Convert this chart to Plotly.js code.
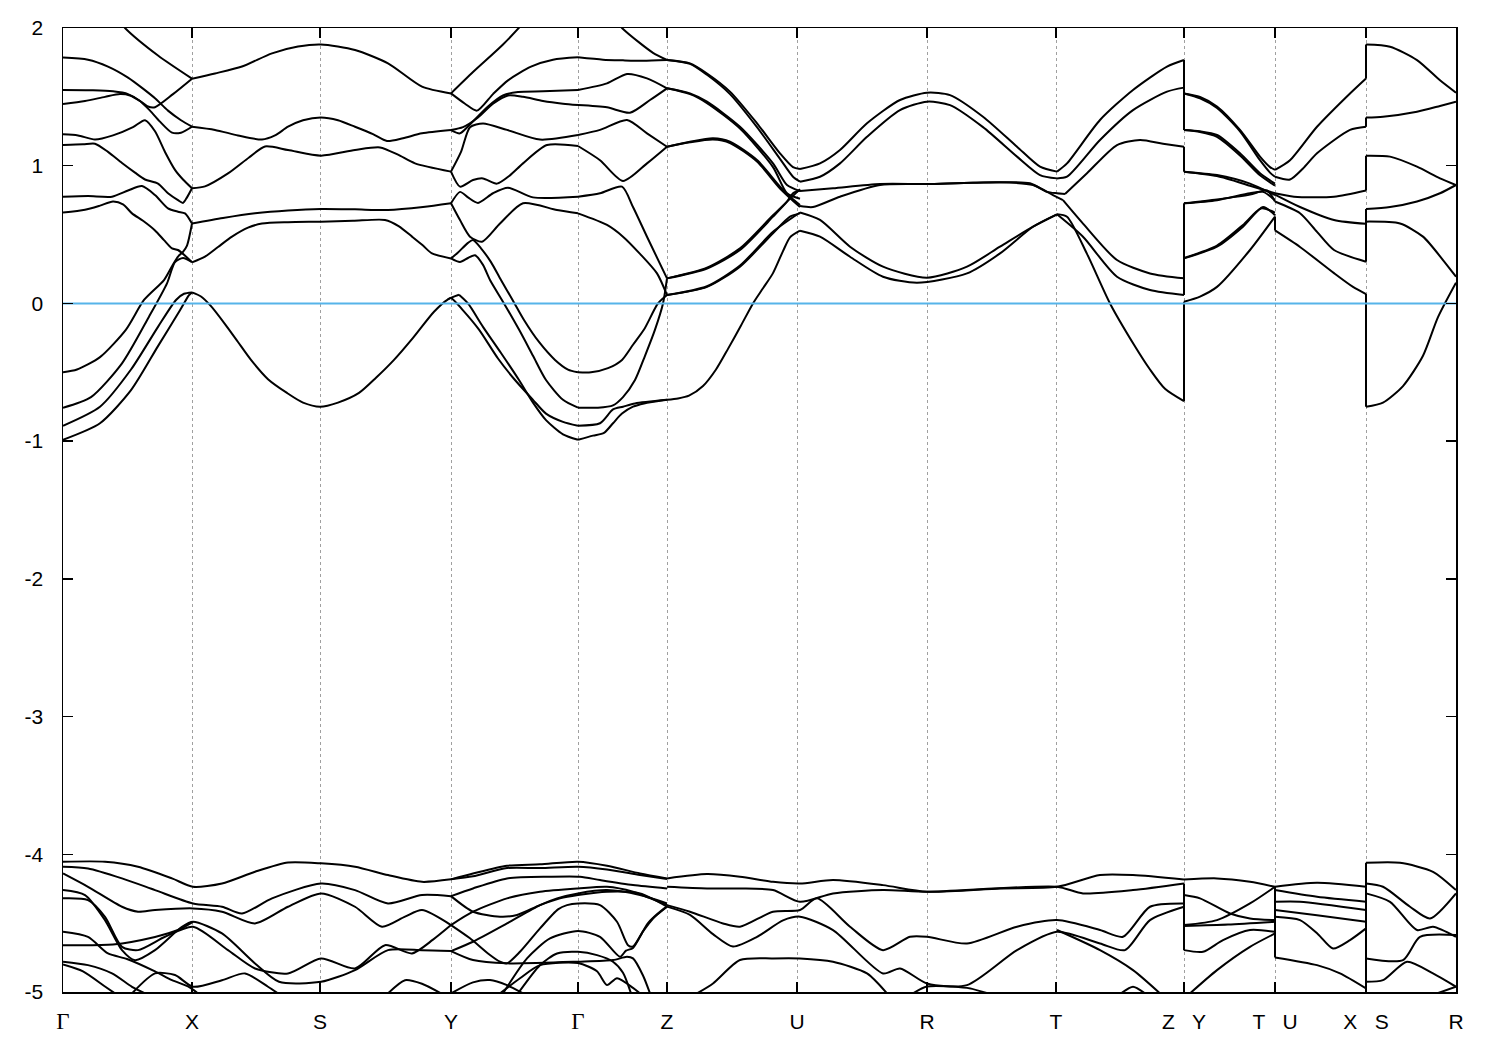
<!DOCTYPE html>
<html><head><meta charset="utf-8">
<script src="https://cdn.plot.ly/plotly-3.0.1.min.js"></script>
<style>html,body{margin:0;padding:0;background:#fff}#chart{width:1500px;height:1050px}</style>
</head><body><div id="chart"></div>
<script>
// k-path node positions (path length units) and labels
const kNodes = [0,129,257,388,515,604,734,864,993,1121,1212,1303,1393];
const G = '<span style="font-family:\'Liberation Serif\',serif;font-size:23px">Γ</span>';
const kLabels = [G,'X','S','Y',G,'Z','U','R','T','Z   Y','T   U','X   S','R'];
const fermiLevel = 0;
const eTicks = [-5,-4,-3,-2,-1,0,1,2];

// ---- bands near the Fermi level, by path segment: each curve = [[k, E], ...]
const upGX = [
 [[40,2.2],[62,2.0],[95,1.8],[129,1.632]],
 [[0,1.785],[25,1.77],[45,1.72],[65,1.64],[80,1.56],[92,1.49],[105,1.40],[118,1.33],[129,1.283]],
 [[0,1.55],[30,1.548],[50,1.54],[65,1.52],[77,1.47],[87,1.40],[97,1.32],[109,1.24],[118,1.24],[129,1.283]],
 [[0,1.448],[22,1.47],[42,1.50],[57,1.52],[67,1.51],[77,1.47],[85,1.43],[92,1.425],[110,1.52],[129,1.632]],
 [[0,1.228],[15,1.22],[32,1.19],[50,1.22],[70,1.28],[82,1.33],[92,1.25],[102,1.10],[112,0.97],[120,0.90],[129,0.836]],
 [[0,1.15],[20,1.155],[32,1.16],[45,1.10],[59,1.02],[72,0.95],[82,0.90],[95,0.87],[105,0.80],[115,0.75],[120,0.73],[124,0.77],[129,0.836]],
 [[0,0.775],[25,0.78],[49,0.775],[65,0.82],[79,0.852],[92,0.787],[105,0.69],[115,0.666],[122,0.654],[129,0.58]],
 [[0,0.66],[22,0.68],[37,0.71],[50,0.74],[60,0.72],[69,0.654],[80,0.60],[92,0.53],[101,0.46],[109,0.40],[115,0.388],[129,0.30]],
 [[0,-0.50],[14,-0.48],[37,-0.39],[63,-0.19],[81,0.025],[101,0.17],[109,0.27],[115,0.34],[120,0.375],[124,0.42],[129,0.58]],
 [[0,-0.757],[28,-0.68],[59,-0.435],[86,-0.096],[104,0.146],[112,0.30],[120,0.33],[129,0.30]],
 [[0,-0.888],[37,-0.75],[68,-0.48],[95,-0.17],[113,0.025],[121,0.07],[129,0.08]],
 [[0,-0.99],[37,-0.87],[68,-0.63],[95,-0.31],[117,-0.05],[126,0.06],[129,0.08]]
];
const upXSY = [
 [[129,1.632],[152,1.67],[179,1.72],[209,1.816],[235,1.865],[258,1.88],[292,1.84],[325,1.743],[359,1.574],[388,1.525]],
 [[129,1.283],[152,1.26],[175,1.22],[199,1.19],[212,1.22],[225,1.283],[240,1.33],[258,1.35],[275,1.33],[292,1.283],[310,1.23],[324,1.18],[340,1.20],[359,1.235],[388,1.259]],
 [[129,0.836],[142,0.85],[165,0.944],[186,1.06],[202,1.14],[225,1.114],[258,1.073],[292,1.114],[317,1.133],[335,1.08],[352,1.017],[388,0.957]],
 [[129,0.58],[160,0.62],[192,0.654],[225,0.675],[258,0.686],[292,0.683],[325,0.678],[360,0.70],[388,0.727]],
 [[129,0.298],[142,0.34],[155,0.41],[169,0.485],[185,0.55],[199,0.58],[225,0.59],[258,0.594],[290,0.60],[322,0.606],[336,0.56],[349,0.485],[360,0.42],[369,0.363],[388,0.327]],
 [[129,0.08],[138,0.05],[148,-0.02],[162,-0.15],[175,-0.28],[188,-0.41],[205,-0.55],[224,-0.65],[240,-0.72],[257,-0.75],[275,-0.72],[296,-0.65],[313,-0.54],[331,-0.41],[350,-0.25],[371,-0.06],[385,0.03],[396,0.063]]
];
const upYG = [
 [[388,1.525],[410,1.68],[440,1.88],[462,2.05],[480,2.2]],
 [[388,1.525],[402,1.45],[414,1.40],[430,1.52],[445,1.62],[468,1.72],[490,1.77],[515,1.787]],
 [[388,1.259],[397,1.235],[407,1.30],[425,1.43],[440,1.51],[455,1.535],[480,1.54],[515,1.55]],
 [[388,1.259],[400,1.28],[415,1.35],[430,1.45],[445,1.51],[460,1.50],[480,1.47],[500,1.45],[515,1.44]],
 [[388,0.957],[398,1.10],[407,1.28],[420,1.307],[444,1.26],[477,1.19],[515,1.223]],
 [[388,0.957],[397,0.848],[410,0.896],[420,0.908],[434,0.87],[447,0.93],[460,1.017],[484,1.15],[515,1.143]],
 [[388,0.727],[397,0.81],[405,0.77],[415,0.73],[430,0.80],[445,0.84],[470,0.77],[515,0.775]],
 [[388,0.727],[397,0.605],[407,0.485],[419,0.448],[437,0.58],[460,0.727],[494,0.678],[515,0.654]],
 [[388,0.327],[397,0.30],[405,0.33],[412,0.35],[420,0.28],[427,0.17],[441,0.0],[456,-0.19],[470,-0.38],[483,-0.556],[500,-0.70],[515,-0.757]],
 [[388,0.327],[395,0.37],[405,0.44],[410,0.46],[418,0.40],[428,0.30],[438,0.17],[450,0.02],[461,-0.12],[476,-0.28],[492,-0.41],[505,-0.48],[515,-0.50]],
 [[396,0.063],[405,0.0],[420,-0.17],[438,-0.36],[456,-0.556],[470,-0.72],[483,-0.847],[500,-0.95],[515,-0.99]],
 [[385,0.03],[388,0.04],[400,-0.05],[416,-0.19],[435,-0.40],[452,-0.556],[470,-0.70],[483,-0.80],[500,-0.86],[515,-0.888]]
];
const upGZ = [
 [[515,1.787],[540,1.77],[560,1.765],[580,1.762],[604,1.768]],
 [[530,2.3],[545,2.12],[559,2.0],[577,1.89],[590,1.82],[604,1.768]],
 [[515,1.55],[544,1.598],[564,1.666],[584,1.634],[604,1.562]],
 [[515,1.44],[544,1.424],[567,1.385],[587,1.477],[604,1.562]],
 [[515,1.223],[537,1.26],[564,1.332],[584,1.235],[604,1.138]],
 [[515,1.143],[537,1.04],[560,0.889],[584,1.017],[604,1.138]],
 [[515,0.775],[537,0.80],[559,0.848],[570,0.70],[584,0.484],[604,0.182]],
 [[515,0.654],[544,0.57],[560,0.485],[577,0.36],[594,0.218],[604,0.061]],
 [[515,-0.99],[530,-0.96],[541,-0.94],[550,-0.87],[559,-0.80],[570,-0.75],[581,-0.726],[604,-0.70]],
 [[515,-0.888],[537,-0.87],[550,-0.77],[560,-0.75],[572,-0.726],[604,-0.70]],
 [[515,-0.757],[535,-0.757],[550,-0.74],[560,-0.68],[572,-0.556],[582,-0.38],[592,-0.19],[600,0.0],[604,0.182]],
 [[515,-0.50],[528,-0.50],[545,-0.47],[559,-0.41],[570,-0.30],[581,-0.19],[595,0.0],[604,0.061]]
];
const upZU = [
 [[604,1.768],[627,1.743],[644,1.67],[667,1.538],[694,1.308],[717,1.09],[730,0.99],[737,0.976]],
 [[604,1.768],[627,1.74],[644,1.66],[667,1.52],[694,1.28],[717,1.05],[730,0.92],[737,0.884]],
 [[604,1.562],[627,1.525],[644,1.465],[677,1.283],[710,1.017],[724,0.86],[737,0.816]],
 [[604,1.562],[627,1.52],[644,1.455],[677,1.27],[710,0.99],[724,0.80],[737,0.76]],
 [[604,1.138],[627,1.174],[650,1.199],[667,1.174],[694,1.041],[717,0.848],[727,0.775],[737,0.715]],
 [[604,1.138],[627,1.17],[650,1.19],[667,1.165],[694,1.03],[717,0.835],[737,0.70]],
 [[604,0.182],[644,0.254],[677,0.388],[710,0.63],[724,0.739],[730,0.80],[737,0.82]],
 [[604,0.182],[644,0.26],[677,0.40],[710,0.64],[737,0.83]],
 [[604,0.061],[644,0.12],[677,0.267],[710,0.51],[727,0.63],[737,0.654]],
 [[604,0.061],[644,0.125],[677,0.275],[710,0.52],[737,0.66]],
 [[604,-0.70],[615,-0.69],[626,-0.67],[640,-0.60],[653,-0.48],[665,-0.33],[678,-0.16],[690,0.0],[700,0.11],[710,0.22],[720,0.38],[727,0.48],[737,0.528]]
];
const upURT = [
 [[737,0.976],[757,1.017],[777,1.114],[804,1.308],[837,1.477],[864,1.53],[887,1.513],[920,1.356],[954,1.138],[977,0.993],[994,0.957]],
 [[737,0.884],[757,0.92],[777,1.017],[804,1.21],[837,1.404],[864,1.465],[887,1.44],[920,1.28],[954,1.066],[977,0.932],[994,0.908]],
 [[737,0.816],[770,0.836],[817,0.867],[864,0.867],[910,0.877],[967,0.872],[984,0.81],[994,0.80],[1002,0.795]],
 [[737,0.707],[750,0.70],[777,0.775],[817,0.86],[864,0.867],[937,0.88],[970,0.86],[990,0.787],[1000,0.75]],
 [[737,0.66],[757,0.606],[787,0.412],[820,0.267],[864,0.187],[904,0.267],[937,0.412],[970,0.557],[994,0.647]],
 [[737,0.528],[757,0.485],[787,0.339],[820,0.194],[854,0.15],[904,0.218],[937,0.363],[970,0.557],[994,0.647]]
];
const upTZ = [
 [[994,0.957],[1004,1.017],[1037,1.332],[1070,1.55],[1104,1.72],[1121,1.768]],
 [[994,0.908],[1004,0.92],[1037,1.187],[1070,1.404],[1104,1.538],[1121,1.567]],
 [[1002,0.795],[1024,0.945],[1054,1.15],[1077,1.187],[1100,1.16],[1121,1.138]],
 [[1000,0.75],[1020,0.58],[1054,0.315],[1087,0.218],[1121,0.182]],
 [[994,0.647],[1020,0.484],[1054,0.194],[1087,0.097],[1121,0.061]],
 [[994,0.647],[1004,0.63],[1024,0.36],[1047,0.0],[1071,-0.30],[1087,-0.48],[1102,-0.62],[1121,-0.71]]
];
const upYT = [
 [[1121,1.768],[1121,1.525],[1137,1.50],[1154,1.43],[1177,1.26],[1197,1.066],[1207,0.99],[1212,0.97]],
 [[1121,1.525],[1137,1.49],[1154,1.42],[1177,1.25],[1197,1.04],[1207,0.95],[1212,0.92]],
 [[1121,1.567],[1121,1.259],[1137,1.25],[1154,1.223],[1177,1.09],[1197,0.945],[1212,0.87]],
 [[1121,1.259],[1137,1.245],[1154,1.21],[1177,1.075],[1197,0.93],[1212,0.855]],
 [[1121,1.138],[1121,0.957],[1154,0.932],[1187,0.87],[1212,0.787]],
 [[1121,0.957],[1154,0.925],[1187,0.855],[1212,0.80]],
 [[1121,0.182],[1121,0.727],[1154,0.75],[1187,0.80],[1200,0.81],[1212,0.75]],
 [[1121,0.727],[1154,0.755],[1187,0.79],[1204,0.82],[1212,0.74]],
 [[1121,0.061],[1121,0.327],[1154,0.412],[1180,0.557],[1200,0.70],[1212,0.64]],
 [[1121,0.33],[1154,0.42],[1180,0.57],[1198,0.69],[1212,0.66]],
 [[1121,-0.71],[1121,0.012],[1137,0.05],[1154,0.12],[1187,0.388],[1212,0.63],[1212,0.53]]
];
const upUX = [
 [[1212,0.97],[1227,1.04],[1254,1.283],[1287,1.525],[1303,1.634],[1303,1.88]],
 [[1212,0.92],[1227,0.90],[1240,0.98],[1254,1.09],[1287,1.26],[1303,1.283],[1303,1.35]],
 [[1212,0.80],[1231,0.775],[1271,0.775],[1303,0.82],[1303,1.073]],
 [[1212,0.79],[1237,0.70],[1271,0.606],[1303,0.578],[1303,0.686]],
 [[1212,0.74],[1237,0.655],[1254,0.52],[1271,0.388],[1303,0.303],[1303,0.594]],
 [[1212,0.53],[1237,0.41],[1271,0.22],[1290,0.12],[1303,0.068],[1303,-0.75]]
];
const upSR = [
 [[1303,1.88],[1327,1.864],[1354,1.767],[1377,1.62],[1393,1.53]],
 [[1303,1.35],[1320,1.356],[1354,1.392],[1377,1.434],[1393,1.465]],
 [[1303,1.073],[1327,1.066],[1354,0.993],[1377,0.908],[1393,0.86]],
 [[1303,0.686],[1327,0.70],[1354,0.74],[1377,0.80],[1393,0.86]],
 [[1303,0.594],[1337,0.58],[1360,0.485],[1380,0.315],[1393,0.194]],
 [[1303,-0.75],[1320,-0.72],[1340,-0.60],[1360,-0.38],[1375,-0.10],[1393,0.15]]
];

// ---- lower bands (-4 to -5 eV)
const lowGXSY = [
 [[0,-4.054],[42,-4.054],[75,-4.09],[109,-4.175],[130,-4.236],[159,-4.212],[192,-4.127],[225,-4.06],[258,-4.066],[292,-4.09],[325,-4.151],[359,-4.2],[388,-4.182]],
 [[0,-4.09],[25,-4.103],[59,-4.175],[92,-4.26],[130,-4.357],[159,-4.381],[179,-4.43],[209,-4.32],[258,-4.212],[292,-4.26],[325,-4.357],[359,-4.296],[388,-4.304]],
 [[0,-4.139],[25,-4.236],[59,-4.381],[75,-4.417],[92,-4.405],[130,-4.393],[159,-4.417],[192,-4.502],[225,-4.381],[258,-4.284],[292,-4.381],[319,-4.526],[342,-4.453],[359,-4.405],[388,-4.514]],
 [[0,-4.26],[22,-4.296],[42,-4.478],[59,-4.696],[72,-4.769],[92,-4.696],[119,-4.526],[130,-4.49],[159,-4.575],[192,-4.793],[216,-4.926],[258,-4.926],[292,-4.841],[325,-4.696],[359,-4.696],[388,-4.703]],
 [[0,-4.32],[25,-4.333],[42,-4.454],[59,-4.672],[75,-4.696],[102,-4.599],[130,-4.526],[165,-4.696],[192,-4.829],[225,-4.865],[258,-4.756],[292,-4.829],[322,-4.66],[349,-4.72],[370,-4.62],[388,-4.514]],
 [[0,-4.66],[50,-4.655],[92,-4.60],[115,-4.55],[130,-4.49]],
 [[0,-4.563],[25,-4.60],[45,-4.72],[64,-4.76],[92,-4.85],[109,-4.914],[125,-4.96],[135,-5.01]],
 [[0,-4.78],[25,-4.805],[49,-4.865],[69,-4.962],[82,-5.01]],
 [[0,-4.80],[20,-4.85],[42,-4.96],[52,-5.01]],
 [[69,-5.01],[92,-4.865],[112,-4.877],[130,-4.962],[159,-4.914],[182,-4.865],[205,-4.962],[215,-5.01]],
 [[325,-5.01],[342,-4.914],[359,-4.94],[378,-5.01]]
];
const lowYGZ = [
 [[388,-4.182],[410,-4.14],[444,-4.083],[477,-4.073],[515,-4.054],[544,-4.083],[577,-4.139],[604,-4.175]],
 [[388,-4.182],[410,-4.16],[444,-4.10],[477,-4.10],[515,-4.09],[544,-4.11],[577,-4.15],[604,-4.18]],
 [[388,-4.304],[410,-4.248],[444,-4.175],[487,-4.163],[517,-4.163],[537,-4.187],[570,-4.223],[604,-4.248]],
 [[388,-4.304],[410,-4.417],[437,-4.453],[454,-4.441],[477,-4.369],[497,-4.32],[515,-4.296],[544,-4.272],[577,-4.284],[604,-4.381]],
 [[388,-4.514],[407,-4.61],[425,-4.72],[437,-4.78],[444,-4.792],[457,-4.708],[477,-4.538],[495,-4.40],[504,-4.369],[515,-4.357],[537,-4.369],[554,-4.49],[565,-4.66],[570,-4.67],[580,-4.56],[590,-4.466],[604,-4.381]],
 [[388,-4.514],[410,-4.417],[444,-4.32],[477,-4.272],[515,-4.248],[544,-4.236],[570,-4.272],[604,-4.369]],
 [[388,-4.703],[410,-4.635],[444,-4.502],[477,-4.369],[494,-4.32],[515,-4.284],[544,-4.26],[577,-4.296],[604,-4.357]],
 [[388,-4.703],[410,-4.768],[444,-4.792],[515,-4.78],[550,-4.768],[564,-4.744],[570,-4.756],[580,-4.88],[587,-5.01]],
 [[440,-5.01],[464,-4.756],[487,-4.611],[515,-4.557],[537,-4.599],[557,-4.744],[563,-4.70],[570,-4.68],[585,-4.50],[600,-4.40],[604,-4.38]],
 [[455,-5.01],[477,-4.805],[494,-4.72],[515,-4.708],[534,-4.732],[550,-4.78],[560,-4.86],[568,-5.01]],
 [[437,-5.01],[457,-4.90],[477,-4.805],[515,-4.79],[534,-4.85],[544,-4.95],[554,-4.90],[570,-4.97],[577,-5.01]],
 [[388,-5.01],[410,-4.93],[427,-4.913],[444,-4.95],[460,-5.01]]
];
const lowMid = [
 [[604,-4.175],[644,-4.144],[677,-4.163],[710,-4.2],[737,-4.212],[770,-4.187],[820,-4.224],[864,-4.272],[937,-4.248],[994,-4.236],[1037,-4.151],[1070,-4.151],[1121,-4.183]],
 [[604,-4.236],[644,-4.248],[677,-4.248],[710,-4.26],[737,-4.345],[770,-4.284],[820,-4.26],[864,-4.272],[994,-4.236],[1020,-4.284],[1070,-4.26],[1121,-4.212]],
 [[604,-4.369],[627,-4.417],[660,-4.502],[677,-4.526],[710,-4.417],[737,-4.405],[754,-4.32],[787,-4.526],[820,-4.696],[847,-4.599],[864,-4.599],[904,-4.648],[954,-4.526],[994,-4.478],[1037,-4.55],[1060,-4.599],[1087,-4.381],[1121,-4.357]],
 [[604,-4.38],[627,-4.44],[650,-4.58],[670,-4.67],[694,-4.60],[720,-4.48],[737,-4.453],[770,-4.55],[820,-4.865],[837,-4.829],[864,-4.938],[904,-4.95],[954,-4.696],[994,-4.563],[1037,-4.648],[1062,-4.696],[1087,-4.478],[1121,-4.381]],
 [[634,-5.01],[650,-4.938],[677,-4.768],[710,-4.756],[737,-4.756],[770,-4.78],[804,-4.865],[824,-5.01]],
 [[994,-4.55],[1037,-4.696],[1070,-4.841],[1097,-5.01]],
 [[1058,-5.01],[1070,-4.962],[1082,-5.01]],
 [[850,-5.01],[864,-4.96],[904,-4.97],[925,-5.01]]
];
const lowRight = [
 [[1121,-4.212],[1121,-4.696]],
 [[1121,-4.183],[1154,-4.175],[1187,-4.2],[1212,-4.236]],
 [[1121,-4.296],[1137,-4.32],[1167,-4.43],[1187,-4.466],[1212,-4.478]],
 [[1121,-4.514],[1154,-4.478],[1187,-4.357],[1212,-4.236]],
 [[1121,-4.52],[1165,-4.51],[1212,-4.49]],
 [[1121,-4.696],[1140,-4.708],[1160,-4.623],[1187,-4.55],[1212,-4.563]],
 [[1127,-5.01],[1154,-4.841],[1187,-4.672],[1212,-4.575]],
 [[1212,-4.236],[1212,-4.749]],
 [[1212,-4.236],[1254,-4.207],[1303,-4.236]],
 [[1212,-4.26],[1254,-4.309],[1303,-4.345]],
 [[1212,-4.345],[1237,-4.345],[1303,-4.405]],
 [[1212,-4.405],[1254,-4.442],[1303,-4.49]],
 [[1212,-4.454],[1237,-4.478],[1255,-4.58],[1270,-4.684],[1287,-4.623],[1303,-4.538]],
 [[1212,-4.749],[1254,-4.805],[1277,-4.865],[1303,-4.974]],
 [[1303,-4.062],[1303,-4.974]],
 [[1303,-4.062],[1337,-4.062],[1370,-4.127],[1393,-4.26]],
 [[1303,-4.212],[1320,-4.236],[1347,-4.381],[1367,-4.466],[1393,-4.284]],
 [[1303,-4.284],[1327,-4.345],[1354,-4.55],[1370,-4.526],[1393,-4.599]],
 [[1303,-4.756],[1340,-4.768],[1357,-4.6],[1393,-4.587]],
 [[1303,-4.926],[1320,-4.914],[1344,-4.78],[1370,-4.865],[1393,-4.962]],
 [[1374,-5.01],[1393,-4.962]]
];

const allCurves = [].concat(upGX, upXSY, upYG, upGZ, upZU, upURT, upTZ, upYT, upUX, upSR,
                            lowGXSY, lowYGZ, lowMid, lowRight);

// split each curve at vertical jumps (same k twice): smooth pieces + straight jumps
function pieces(c) {
  const out = []; let cur = [c[0]];
  for (let i = 1; i < c.length; i++) {
    if (c[i][0] === c[i-1][0]) {
      if (cur.length > 1) out.push({pts: cur, jump: false});
      out.push({pts: [c[i-1], c[i]], jump: true});
      cur = [c[i]];
    } else cur.push(c[i]);
  }
  if (cur.length > 1) out.push({pts: cur, jump: false});
  return out;
}
const traces = [];
allCurves.forEach(c => pieces(c).forEach(p => traces.push({
  x: p.pts.map(q => q[0]), y: p.pts.map(q => q[1]),
  type: 'scatter', mode: 'lines',
  line: p.jump ? {color: '#000', width: 2} : {color: '#000', width: 2, shape: 'spline', smoothing: 0.7},
  hoverinfo: 'skip', showlegend: false
})));
traces.push({
  x: [kNodes[0], kNodes[kNodes.length-1]], y: [fermiLevel, fermiLevel],
  type: 'scatter', mode: 'lines', line: {color: '#56B4E9', width: 2},
  hoverinfo: 'skip', showlegend: false
});

const font = {family: '"Liberation Sans", Arial, sans-serif', size: 21, color: '#000'};
const layout = {
  width: 1500, height: 1050,
  margin: {l: 63, r: 44, t: 28, b: 58},
  paper_bgcolor: '#fff', plot_bgcolor: '#fff',
  showlegend: false,
  font: font,
  xaxis: {
    range: [kNodes[0], kNodes[kNodes.length-1]],
    tickmode: 'array', tickvals: kNodes, ticktext: kLabels,
    ticks: 'inside', ticklen: 10, tickwidth: 1.5, tickcolor: '#000',
    showline: true, linecolor: '#000', linewidth: 1.5, mirror: 'ticks',
    showgrid: true, gridcolor: '#a0a0a0', gridwidth: 1, griddash: '3px,3px',
    zeroline: false, tickfont: font, ticklabelstandoff: 10
  },
  yaxis: {
    range: [-5, 2],
    tickmode: 'array', tickvals: eTicks, ticktext: eTicks.map(v => String(v)),
    ticks: 'inside', ticklen: 10, tickwidth: 1.5, tickcolor: '#000',
    showline: true, linecolor: '#000', linewidth: 1.5, mirror: 'ticks',
    showgrid: false, zeroline: false, tickfont: font, ticklabelstandoff: 14
  }
};
Plotly.newPlot('chart', traces, layout, {staticPlot: true, displayModeBar: false});
</script>
</body></html>
